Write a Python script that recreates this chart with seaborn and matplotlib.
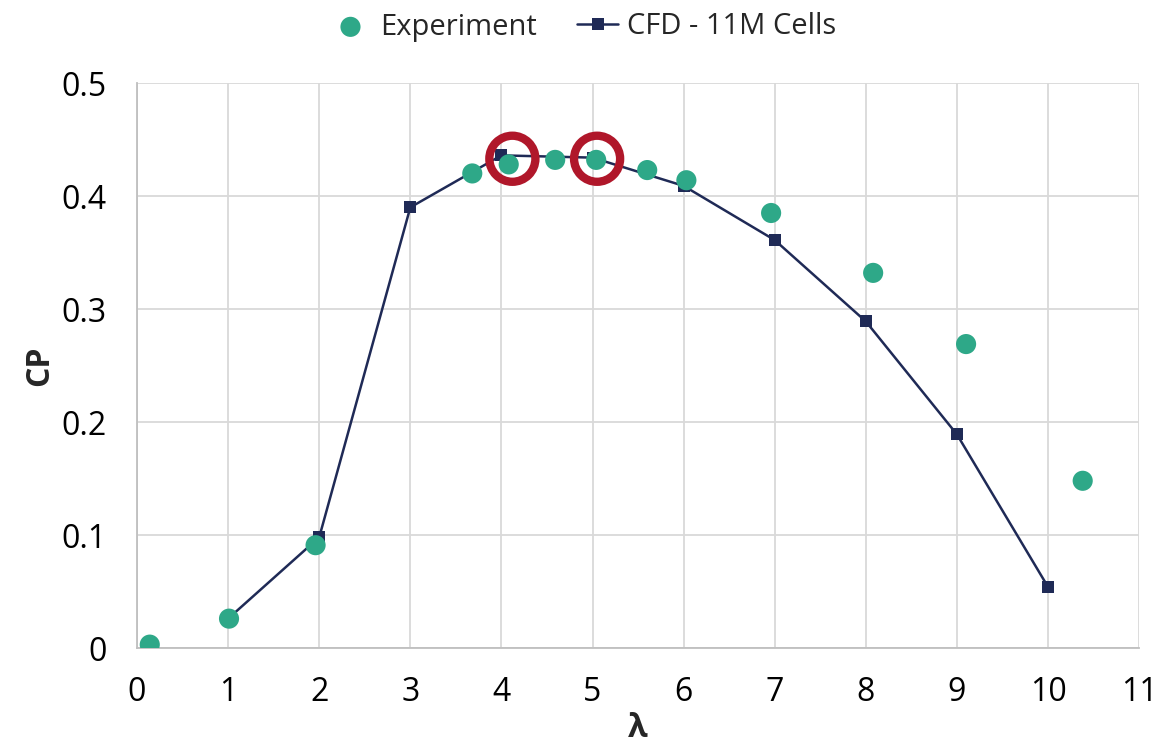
import matplotlib
matplotlib.use("Agg")
import matplotlib.pyplot as plt
import seaborn as sns
import pandas as pd

# Experiment data
exp_lambda = [0.14, 1.01, 1.96, 3.68, 4.08, 4.59, 5.04, 5.60, 6.03, 6.96, 8.08, 9.10, 10.38]
exp_cp = [0.003, 0.026, 0.091, 0.420, 0.428, 0.432, 0.432, 0.423, 0.414, 0.385, 0.332, 0.269, 0.148]

# CFD data
cfd_lambda = [1, 2, 3, 4, 5, 6, 7, 8, 9, 10]
cfd_cp = [0.026, 0.098, 0.390, 0.436, 0.434, 0.409, 0.361, 0.289, 0.189, 0.054]

# Highlighted points
hl_lambda = [4.12, 5.05]
hl_cp = [0.433, 0.433]

x_ticks = list(range(0, 12))
y_ticks = [0, 0.1, 0.2, 0.3, 0.4, 0.5]
y_ticklabels = ["0", "0.1", "0.2", "0.3", "0.4", "0.5"]

sns.set_theme(style="whitegrid")
plt.rcParams['font.family'] = ['Open Sans', 'DejaVu Sans']

GREEN = "#2EA888"
NAVY = "#1F2A56"
RED = "#B0172A"
GRID = "#D9D9D9"

fig = plt.figure(figsize=(11.66, 7.55), dpi=100)
ax = fig.add_axes([0.1175, 0.1417, 0.977 - 0.1175, 0.890 - 0.1417])

df_exp = pd.DataFrame({"lam": exp_lambda, "cp": exp_cp})
df_cfd = pd.DataFrame({"lam": cfd_lambda, "cp": cfd_cp})

sns.lineplot(data=df_cfd, x="lam", y="cp", ax=ax, color=NAVY, linewidth=1.8,
             marker="s", markersize=8, markeredgewidth=0, label="CFD - 11M Cells",
             zorder=3, sort=False)
sns.scatterplot(data=df_exp, x="lam", y="cp", ax=ax, color=GREEN, s=210,
                edgecolor="none", label="Experiment", zorder=4)
ax.scatter(hl_lambda, hl_cp, s=1100, facecolors="none", edgecolors=RED,
           linewidths=6, zorder=5)

ax.set_xlim(0, 11)
ax.set_ylim(0, 0.5)
ax.set_xticks(x_ticks)
ax.set_yticks(y_ticks)
ax.set_yticklabels(y_ticklabels)
ax.tick_params(axis="both", labelsize=23, length=0, colors="#000000")
ax.tick_params(axis="y", pad=22)
ax.tick_params(axis="x", pad=20)
ax.grid(True, color=GRID, linewidth=1.3)
for s in ["top", "right"]:
    ax.spines[s].set_visible(False)
for s in ["left", "bottom"]:
    ax.spines[s].set_color("#BFBFBF")
    ax.spines[s].set_linewidth(1.3)

ax.set_xlabel("λ", fontsize=23, fontweight="bold", labelpad=2)
ax.set_ylabel("CP", fontsize=23, fontweight="bold", labelpad=4)

handles, labels = ax.get_legend_handles_labels()
ax.get_legend().remove()
order = [labels.index("Experiment"), labels.index("CFD - 11M Cells")]
fig.legend([handles[i] for i in order], [labels[i] for i in order],
           loc="center", bbox_to_anchor=(0.5, 1 - 27 / 755), ncol=2, frameon=False,
           fontsize=21, handlelength=1.4, columnspacing=1.4, handletextpad=0.3)

fig.savefig("out.png", dpi=100)
